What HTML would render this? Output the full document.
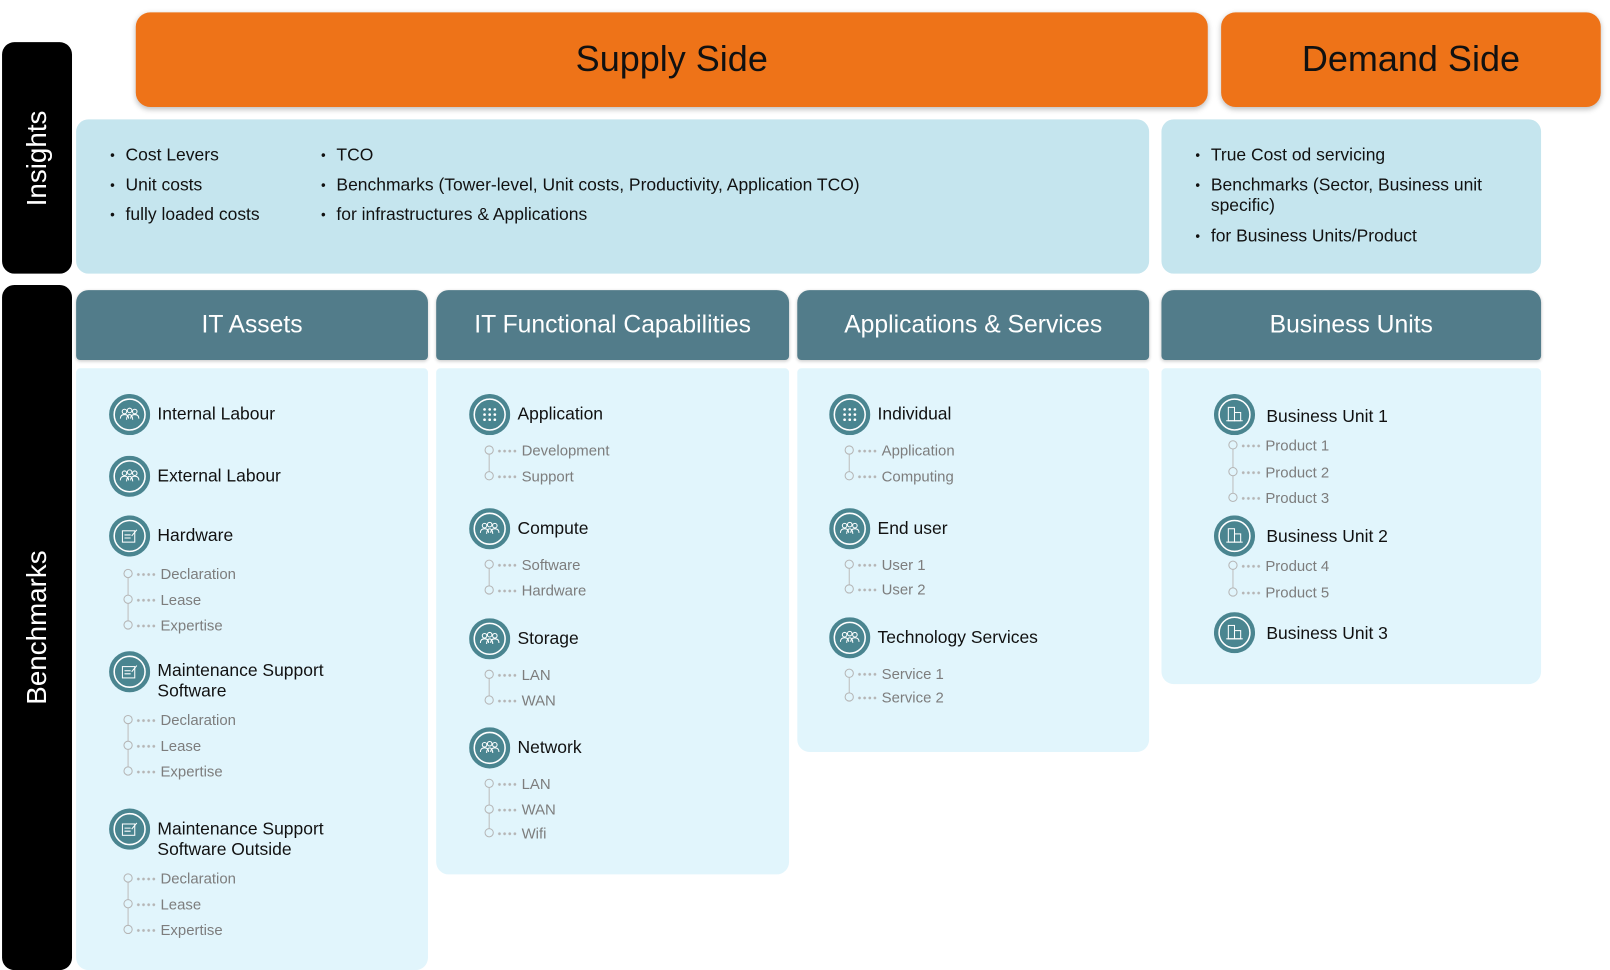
<!DOCTYPE html>
<html><head><meta charset="utf-8"><style>
html,body{margin:0;padding:0;background:#fff;width:1610px;height:969px;overflow:hidden}
#w{position:absolute;left:0;top:0;width:1565px;height:942px;transform:scale(1.02875,1.0287);transform-origin:0 0;font-family:"Liberation Sans",Arial,sans-serif}
.a{position:absolute}
.blk{background:#000;border-radius:12px}
.vt{position:absolute;color:#fff;font-size:27px;white-space:nowrap;transform:translate(-50%,-50%) rotate(-90deg)}
.or{background:#EE7318;border-radius:14px;box-shadow:0 2px 5px rgba(0,0,0,.25);color:#111;font-size:35px;display:flex;align-items:center;justify-content:center}
.ins{background:#C5E5EE;border-radius:12px}
.hd{background:#527C8A;border-radius:12px 12px 4px 4px;color:#fff;font-size:24px;display:flex;align-items:center;justify-content:center;box-shadow:0 1px 3px rgba(0,0,0,.2)}
.bx{background:#E1F5FC;border-radius:4px 4px 12px 12px}
.bl{position:absolute;font-size:17px;color:#111;white-space:nowrap;line-height:20px}
.bl::before{content:"•";position:absolute;left:-15px;font-size:13px}
.ic{position:absolute;width:40px;height:40px}
.t{position:absolute;font-size:17px;color:#111;line-height:20px;white-space:nowrap}
.s{position:absolute;height:18px;font-size:14.5px;color:#7d7d7d;line-height:18px;white-space:nowrap}
.s i{position:absolute;left:-1px;top:3px;width:9px;height:9px;box-sizing:border-box;border:1.7px solid #b5b5b5;border-radius:50%;background:#E1F5FC}
.s b{position:absolute;left:11px;top:6.5px;width:20px;height:3px;background:radial-gradient(circle,#b5b5b5 1.2px,transparent 1.5px) 0 0/5px 3px repeat-x}
.s span{position:absolute;left:35px;top:0}
.vl{position:absolute;width:1.6px;background:#bdbdbd;margin-left:2.7px}
</style></head><body><div id="w">
<svg width="0" height="0" style="position:absolute"><defs>
<symbol id="pp" viewBox="0 0 40 40"><circle cx="20" cy="20" r="20" fill="#4A8590"/><circle cx="20" cy="20" r="15" fill="none" stroke="#fff" stroke-width="1.5"/><g fill="none" stroke="#fff" stroke-width="1"><circle cx="15" cy="17" r="2.2"/><circle cx="20" cy="16" r="2.2"/><circle cx="25" cy="17" r="2.2"/><path d="M11 24c0-3 2-4 4-4s4 1 4 4M17 25c0-3 1.5-5 3-5s3 2 3 5M21 24c0-3 2-4 4-4s4 1 4 4"/></g></symbol>
<symbol id="dc" viewBox="0 0 40 40"><circle cx="20" cy="20" r="20" fill="#4A8590"/><circle cx="20" cy="20" r="15" fill="none" stroke="#fff" stroke-width="1.5"/><g fill="none" stroke="#fff" stroke-width="1"><rect x="13" y="15" width="12" height="11"/><path d="M15 19h6M15 22h6M22 20l5-6"/></g></symbol>
<symbol id="gr" viewBox="0 0 40 40"><circle cx="20" cy="20" r="20" fill="#4A8590"/><circle cx="20" cy="20" r="15" fill="none" stroke="#fff" stroke-width="1.5"/><g fill="#fff"><circle cx="15" cy="15" r="1.3"/><circle cx="20" cy="15" r="1.3"/><circle cx="25" cy="15" r="1.3"/><circle cx="15" cy="20" r="1.3"/><circle cx="20" cy="20" r="1.3"/><circle cx="25" cy="20" r="1.3"/><circle cx="15" cy="25" r="1.3"/><circle cx="20" cy="25" r="1.3"/><circle cx="25" cy="25" r="1.3"/></g></symbol>
<symbol id="bu" viewBox="0 0 40 40"><circle cx="20" cy="20" r="20" fill="#4A8590"/><circle cx="20" cy="20" r="15" fill="none" stroke="#fff" stroke-width="1.5"/><g fill="none" stroke="#fff" stroke-width="1"><rect x="14" y="13" width="6" height="13"/><rect x="20" y="18" width="6" height="8"/><path d="M12 26h16"/></g></symbol>
</defs></svg>

<div class="a blk" style="left:2px;top:41px;width:68px;height:225px"></div>
<div class="vt" style="left:36px;top:154px">Insights</div>
<div class="a blk" style="left:2px;top:277px;width:68px;height:666px"></div>
<div class="vt" style="left:36px;top:610px">Benchmarks</div>

<div class="a or" style="left:132px;top:12px;width:1042px;height:92px">Supply Side</div>
<div class="a or" style="left:1187px;top:12px;width:369px;height:92px">Demand Side</div>

<div class="a ins" style="left:74px;top:116px;width:1043px;height:150px"></div>
<div class="a ins" style="left:1129px;top:116px;width:369px;height:150px"></div>
<div class="bl" style="left:122px;top:141px">Cost Levers</div>
<div class="bl" style="left:122px;top:170px">Unit costs</div>
<div class="bl" style="left:122px;top:199px">fully loaded costs</div>
<div class="bl" style="left:327px;top:141px">TCO</div>
<div class="bl" style="left:327px;top:170px">Benchmarks (Tower-level, Unit costs, Productivity, Application TCO)</div>
<div class="bl" style="left:327px;top:199px">for infrastructures &amp; Applications</div>
<div class="bl" style="left:1177px;top:141px">True Cost od servicing</div>
<div class="bl" style="left:1177px;top:170px">Benchmarks (Sector, Business unit<br>specific)</div>
<div class="bl" style="left:1177px;top:220px">for Business Units/Product</div>

<div class="a hd" style="left:74px;top:282px;width:342px;height:68px">IT Assets</div>
<div class="a hd" style="left:424px;top:282px;width:343px;height:68px">IT Functional Capabilities</div>
<div class="a hd" style="left:775px;top:282px;width:342px;height:68px">Applications &amp; Services</div>
<div class="a hd" style="left:1129px;top:282px;width:369px;height:68px">Business Units</div>

<div class="a bx" style="left:74px;top:358px;width:342px;height:585px"></div>
<div class="a bx" style="left:424px;top:358px;width:343px;height:492px"></div>
<div class="a bx" style="left:775px;top:358px;width:342px;height:373px"></div>
<div class="a bx" style="left:1129px;top:358px;width:369px;height:307px"></div>

<!-- IT Assets -->
<svg class="ic" style="left:106px;top:383px"><use href="#pp"/></svg><div class="t" style="left:153px;top:393px">Internal Labour</div>
<svg class="ic" style="left:106px;top:443px"><use href="#pp"/></svg><div class="t" style="left:153px;top:453px">External Labour</div>
<svg class="ic" style="left:106px;top:501px"><use href="#dc"/></svg><div class="t" style="left:153px;top:511px">Hardware</div>
<div class="vl" style="left:121px;top:559px;height:50px"></div>
<div class="s" style="left:121px;top:550px"><i></i><b></b><span>Declaration</span></div>
<div class="s" style="left:121px;top:575px"><i></i><b></b><span>Lease</span></div>
<div class="s" style="left:121px;top:600px"><i></i><b></b><span>Expertise</span></div>
<svg class="ic" style="left:106px;top:633px"><use href="#dc"/></svg><div class="t" style="left:153px;top:642px">Maintenance Support<br>Software</div>
<div class="vl" style="left:121px;top:701px;height:50px"></div>
<div class="s" style="left:121px;top:692px"><i></i><b></b><span>Declaration</span></div>
<div class="s" style="left:121px;top:717px"><i></i><b></b><span>Lease</span></div>
<div class="s" style="left:121px;top:742px"><i></i><b></b><span>Expertise</span></div>
<svg class="ic" style="left:106px;top:786px"><use href="#dc"/></svg><div class="t" style="left:153px;top:796px">Maintenance Support<br>Software Outside</div>
<div class="vl" style="left:121px;top:855px;height:50px"></div>
<div class="s" style="left:121px;top:846px"><i></i><b></b><span>Declaration</span></div>
<div class="s" style="left:121px;top:871px"><i></i><b></b><span>Lease</span></div>
<div class="s" style="left:121px;top:896px"><i></i><b></b><span>Expertise</span></div>

<!-- IT Functional -->
<svg class="ic" style="left:456px;top:383px"><use href="#gr"/></svg><div class="t" style="left:503px;top:393px">Application</div>
<div class="vl" style="left:472px;top:439px;height:25px"></div>
<div class="s" style="left:472px;top:430px"><i></i><b></b><span>Development</span></div>
<div class="s" style="left:472px;top:455px"><i></i><b></b><span>Support</span></div>
<svg class="ic" style="left:456px;top:494px"><use href="#pp"/></svg><div class="t" style="left:503px;top:504px">Compute</div>
<div class="vl" style="left:472px;top:550px;height:25px"></div>
<div class="s" style="left:472px;top:541px"><i></i><b></b><span>Software</span></div>
<div class="s" style="left:472px;top:566px"><i></i><b></b><span>Hardware</span></div>
<svg class="ic" style="left:456px;top:601px"><use href="#pp"/></svg><div class="t" style="left:503px;top:611px">Storage</div>
<div class="vl" style="left:472px;top:657px;height:25px"></div>
<div class="s" style="left:472px;top:648px"><i></i><b></b><span>LAN</span></div>
<div class="s" style="left:472px;top:673px"><i></i><b></b><span>WAN</span></div>
<svg class="ic" style="left:456px;top:707px"><use href="#pp"/></svg><div class="t" style="left:503px;top:717px">Network</div>
<div class="vl" style="left:472px;top:763px;height:48px"></div>
<div class="s" style="left:472px;top:754px"><i></i><b></b><span>LAN</span></div>
<div class="s" style="left:472px;top:779px"><i></i><b></b><span>WAN</span></div>
<div class="s" style="left:472px;top:802px"><i></i><b></b><span>Wifi</span></div>

<!-- Apps -->
<svg class="ic" style="left:806px;top:383px"><use href="#gr"/></svg><div class="t" style="left:853px;top:393px">Individual</div>
<div class="vl" style="left:822px;top:439px;height:25px"></div>
<div class="s" style="left:822px;top:430px"><i></i><b></b><span>Application</span></div>
<div class="s" style="left:822px;top:455px"><i></i><b></b><span>Computing</span></div>
<svg class="ic" style="left:806px;top:494px"><use href="#pp"/></svg><div class="t" style="left:853px;top:504px">End user</div>
<div class="vl" style="left:822px;top:550px;height:24px"></div>
<div class="s" style="left:822px;top:541px"><i></i><b></b><span>User 1</span></div>
<div class="s" style="left:822px;top:565px"><i></i><b></b><span>User 2</span></div>
<svg class="ic" style="left:806px;top:600px"><use href="#pp"/></svg><div class="t" style="left:853px;top:610px">Technology Services</div>
<div class="vl" style="left:822px;top:656px;height:23px"></div>
<div class="s" style="left:822px;top:647px"><i></i><b></b><span>Service 1</span></div>
<div class="s" style="left:822px;top:670px"><i></i><b></b><span>Service 2</span></div>

<!-- BU -->
<svg class="ic" style="left:1180px;top:383px"><use href="#bu"/></svg><div class="t" style="left:1231px;top:395px">Business Unit 1</div>
<div class="vl" style="left:1195px;top:434px;height:51px"></div>
<div class="s" style="left:1195px;top:425px"><i></i><b></b><span>Product 1</span></div>
<div class="s" style="left:1195px;top:451px"><i></i><b></b><span>Product 2</span></div>
<div class="s" style="left:1195px;top:476px"><i></i><b></b><span>Product 3</span></div>
<svg class="ic" style="left:1180px;top:501px"><use href="#bu"/></svg><div class="t" style="left:1231px;top:512px">Business Unit 2</div>
<div class="vl" style="left:1195px;top:551px;height:26px"></div>
<div class="s" style="left:1195px;top:542px"><i></i><b></b><span>Product 4</span></div>
<div class="s" style="left:1195px;top:568px"><i></i><b></b><span>Product 5</span></div>
<svg class="ic" style="left:1180px;top:595px"><use href="#bu"/></svg><div class="t" style="left:1231px;top:606px">Business Unit 3</div>
</div></body></html>
